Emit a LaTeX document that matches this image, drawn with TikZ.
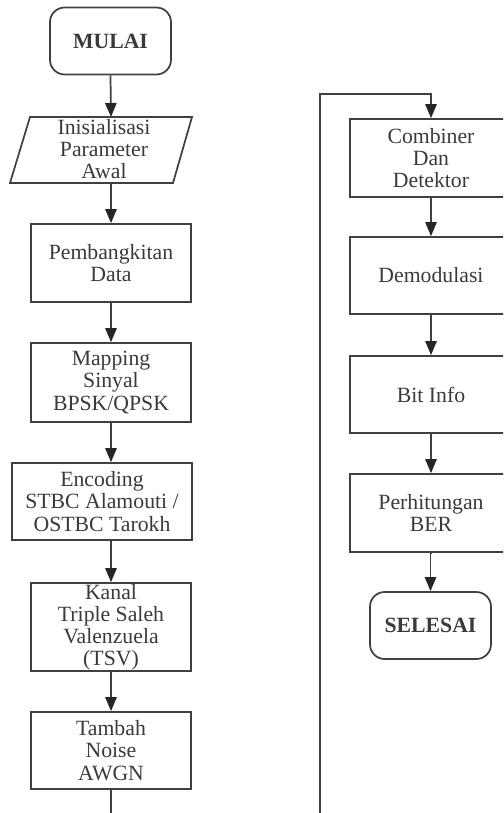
\documentclass[tikz,border=0pt]{standalone}
\usepackage{fontspec}
\setmainfont{Liberation Serif}
\usetikzlibrary{arrows.meta}
\definecolor{ink}{HTML}{3A3A3A}
\definecolor{edge}{HTML}{404040}
\begin{document}
\begin{tikzpicture}[x=0.75pt,y=-0.75pt,
  every node/.style={text=ink,font=\fontsize{16.3}{16.6}\selectfont,align=center,inner sep=0pt},
  stepbox/.style={draw=edge,line width=1.3pt,rectangle,minimum width=#1*0.75pt},
  stepbox/.default=160,
  term/.style={draw=edge,line width=1.3pt,rectangle,rounded corners=11pt,
    minimum width=121*0.75pt,minimum height=67*0.75pt,font=\fontsize{16.3}{16.6}\selectfont\bfseries},
  io/.style={draw=edge,line width=1.3pt,line join=miter},
  flow/.style={draw=edge,line width=1.3pt,-{Triangle[length=10.5pt,width=8.5pt,color=black!85]}},
  link/.style={draw=edge,line width=1.3pt}]
\useasboundingbox (0,0) rectangle (503,813);
\clip (0,0) rectangle (503,813);

% left column
\node[term] (mulai) at (110.5,41) {MULAI};
% input parallelogram
\coordinate (initTop) at (111,117);
\coordinate (initBot) at (111,183);
\path[io] (30,117) -- (192,117) -- (173,183) -- (10,183) -- cycle;
\node (init) at (104,149) {Inisialisasi\\Parameter\\Awal};
\node[stepbox,minimum height=78*0.75pt] (data) at (111,263) {Pembangkitan\\Data};
\node[stepbox,minimum height=79*0.75pt] (map) at (111,382.5) {Mapping\\Sinyal\\BPSK/QPSK};
\node[stepbox=180,minimum height=77*0.75pt] (enc) at (102,501.5) {Encoding\\STBC Alamouti /\\OSTBC Tarokh};
\node[stepbox,minimum height=88*0.75pt] (kanal) at (111,627) {Kanal\\Triple Saleh\\Valenzuela\\(TSV)};
\node[stepbox,minimum height=77*0.75pt] (noise) at (111,750.5) {Tambah\\Noise\\AWGN};
\coordinate (leftEnd) at (111,820);

% right column
\coordinate (rightStart) at (320,820);
\coordinate (turn) at (320,94);
\node[stepbox=162,minimum height=78*0.75pt] (comb) at (431,158) {Combiner\\Dan\\Detektor};
\node[stepbox=162,minimum height=77*0.75pt] (demod) at (431,275.5) {Demodulasi};
\node[stepbox=162,minimum height=77*0.75pt] (bit) at (431,394.5) {Bit Info};
\node[stepbox=162,minimum height=78*0.75pt] (ber) at (431,513) {Perhitungan\\BER};
\node[term] (selesai) at (430.5,625.5) {SELESAI};

% connectors
\draw[flow] (mulai.south) -- (initTop);
\draw[flow] (initBot) -- (data.north);
\draw[flow] (data) -- (map);
\draw[flow] (map.south) -- (map.south |- enc.north);
\draw[flow] (map.south |- enc.south) -- (kanal.north);
\draw[flow] (kanal) -- (noise);
\draw[link] (noise.south) -- (leftEnd);
\draw[flow] (rightStart) -- (turn) -| (comb.north);
\draw[flow] (comb) -- (demod);
\draw[flow] (demod) -- (bit);
\draw[flow] (bit) -- (ber);
\draw[flow] (ber.south) -- (ber.south -| selesai.north) -- (selesai.north);
\end{tikzpicture}
\end{document}
